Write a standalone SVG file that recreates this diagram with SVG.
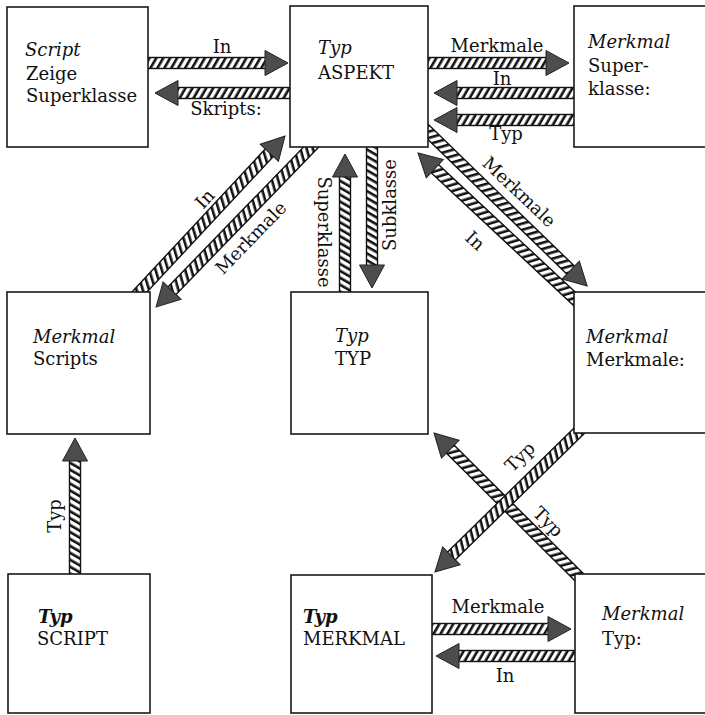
<svg xmlns="http://www.w3.org/2000/svg" width="705" height="715" viewBox="0 0 705 715">
<style>
.t{font-family:"DejaVu Serif","Liberation Serif",serif;font-size:18px;fill:#111}
.i{font-style:italic}
.b{font-weight:bold}
.box{fill:#fff;stroke:#1a1a1a;stroke-width:1.6}
.shaft{fill:url(#hatch);stroke:#111;stroke-width:1.4}
.head{fill:#4d4d4d;stroke:#222;stroke-width:1}
</style>
<defs>
<pattern id="hatch" patternUnits="userSpaceOnUse" width="6" height="6" patternTransform="rotate(30)">
<rect width="6" height="6" fill="#fff"/>
<rect width="2.6" height="6" fill="#111"/>
</pattern>
</defs>
<rect width="705" height="715" fill="#fff"/>
<g id="connectors">
<g transform="translate(145,63)"><rect class="shaft" x="0" y="-5.5" width="121" height="11"/><polygon class="head" points="120,-12.5 143,0 120,12.5"/></g>
<g transform="translate(295,93) rotate(180)"><rect class="shaft" x="0" y="-5.5" width="118" height="11"/><polygon class="head" points="117,-12.5 140,0 117,12.5"/></g>
<g transform="translate(425,63)"><rect class="shaft" x="0" y="-5.5" width="122" height="11"/><polygon class="head" points="121,-12.5 144,0 121,12.5"/></g>
<g transform="translate(578,93) rotate(180)"><rect class="shaft" x="0" y="-5.5" width="122" height="11"/><polygon class="head" points="121,-12.5 144,0 121,12.5"/></g>
<g transform="translate(578,120) rotate(180)"><rect class="shaft" x="0" y="-5.5" width="122" height="11"/><polygon class="head" points="121,-12.5 144,0 121,12.5"/></g>
<g transform="translate(422,126) rotate(44.1)"><rect class="shaft" x="0" y="-5.5" width="208" height="11"/><polygon class="head" points="207,-12.5 230,0 207,12.5"/></g>
<g transform="translate(580,304) rotate(-137)"><rect class="shaft" x="0" y="-5.5" width="199.5" height="11"/><polygon class="head" points="198.5,-12.5 221.5,0 198.5,12.5"/></g>
<g transform="translate(132,300) rotate(-47)"><rect class="shaft" x="0" y="-5.5" width="202.3" height="11"/><polygon class="head" points="201.3,-12.5 224.3,0 201.3,12.5"/></g>
<g transform="translate(318,140) rotate(134.1)"><rect class="shaft" x="0" y="-5.5" width="210.7" height="11"/><polygon class="head" points="209.7,-12.5 232.7,0 209.7,12.5"/></g>
<g transform="translate(345,296) rotate(-90)"><rect class="shaft" x="0" y="-5.5" width="120" height="11"/><polygon class="head" points="119,-12.5 142,0 119,12.5"/></g>
<g transform="translate(372,144) rotate(90)"><rect class="shaft" x="0" y="-5.5" width="122" height="11"/><polygon class="head" points="121,-12.5 144,0 121,12.5"/></g>
<g transform="translate(75,578) rotate(-90)"><rect class="shaft" x="0" y="-5.5" width="118" height="11"/><polygon class="head" points="117,-12.5 140,0 117,12.5"/></g>
<g transform="translate(582,580) rotate(-135.2)"><rect class="shaft" x="0" y="-5.5" width="186.6" height="11"/><polygon class="head" points="185.6,-12.5 208.6,0 185.6,12.5"/></g>
<g transform="translate(582,428) rotate(135.6)"><rect class="shaft" x="0" y="-5.5" width="183.8" height="11"/><polygon class="head" points="182.8,-12.5 205.8,0 182.8,12.5"/></g>
<g transform="translate(428,629)"><rect class="shaft" x="0" y="-5.5" width="121" height="11"/><polygon class="head" points="120,-12.5 143,0 120,12.5"/></g>
<g transform="translate(580,656) rotate(180)"><rect class="shaft" x="0" y="-5.5" width="122" height="11"/><polygon class="head" points="121,-12.5 144,0 121,12.5"/></g>
<text class="t" x="222" y="53" text-anchor="middle">In</text>
<text class="t" x="226" y="115" text-anchor="middle">Skripts:</text>
<text class="t" x="497" y="52" text-anchor="middle">Merkmale</text>
<text class="t" x="502" y="85" text-anchor="middle">In</text>
<text class="t" x="506" y="140" text-anchor="middle">Typ</text>
<text class="t" transform="translate(519,192) rotate(43.4)" y="6" text-anchor="middle">Merkmale</text>
<text class="t" transform="translate(475,241) rotate(43)" y="6" text-anchor="middle">In</text>
<text class="t" transform="translate(205,199) rotate(-47)" y="6" text-anchor="middle">In</text>
<text class="t" transform="translate(251,238) rotate(-45.9)" y="6" text-anchor="middle">Merkmale</text>
<text class="t" transform="translate(324,232) rotate(90)" y="6" text-anchor="middle">Superklasse</text>
<text class="t" transform="translate(390,205) rotate(-90)" y="6" text-anchor="middle">Subklasse</text>
<text class="t" transform="translate(55,516) rotate(-90)" y="6" text-anchor="middle">Typ</text>
<text class="t" transform="translate(520,457) rotate(-44.4)" y="6" text-anchor="middle">Typ</text>
<text class="t" transform="translate(548,522) rotate(45)" y="6" text-anchor="middle">Typ</text>
<text class="t" x="498" y="613" text-anchor="middle">Merkmale</text>
<text class="t" x="505" y="682" text-anchor="middle">In</text>
</g>
<g id="node-script-zeige">
<rect class="box" x="7" y="7" width="141" height="140"/>
<text class="t i" x="25" y="56">Script</text>
<text class="t" x="26" y="80">Zeige</text>
<text class="t" x="26" y="102">Superklasse</text>
</g>
<g id="node-aspekt">
<rect class="box" x="290" y="6" width="138" height="141"/>
<text class="t i" x="318" y="54">Typ</text>
<text class="t" x="318" y="79">ASPEKT</text>
</g>
<g id="node-superklasse">
<rect class="box" x="574" y="6" width="140" height="141"/>
<text class="t i" x="588" y="48">Merkmal</text>
<text class="t" x="588" y="72">Super-</text>
<text class="t" x="588" y="95">klasse:</text>
</g>
<g id="node-scripts">
<rect class="box" x="7" y="292" width="143" height="142"/>
<text class="t i" x="33" y="343">Merkmal</text>
<text class="t" x="33" y="365">Scripts</text>
</g>
<g id="node-typ">
<rect class="box" x="291" y="292" width="137" height="142"/>
<text class="t i" x="335" y="342">Typ</text>
<text class="t" x="335" y="365">TYP</text>
</g>
<g id="node-merkmale">
<rect class="box" x="574" y="292" width="140" height="141"/>
<text class="t i" x="586" y="343">Merkmal</text>
<text class="t" x="586" y="366">Merkmale:</text>
</g>
<g id="node-script">
<rect class="box" x="8" y="574" width="142" height="139"/>
<text class="t i b" x="38" y="623">Typ</text>
<text class="t" x="37" y="645">SCRIPT</text>
</g>
<g id="node-merkmal">
<rect class="box" x="291" y="575" width="141" height="138"/>
<text class="t i b" x="303" y="623">Typ</text>
<text class="t" x="303" y="645">MERKMAL</text>
</g>
<g id="node-typ-feature">
<rect class="box" x="575" y="574" width="140" height="139"/>
<text class="t i" x="602" y="620">Merkmal</text>
<text class="t" x="602" y="645">Typ:</text>
</g>
</svg>
